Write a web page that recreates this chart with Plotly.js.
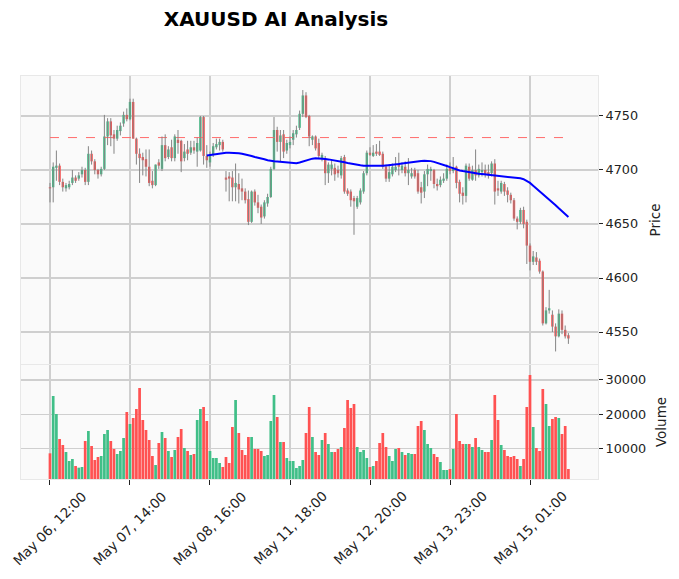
<!DOCTYPE html>
<html><head><meta charset="utf-8">
<script src="https://cdn.plot.ly/plotly-3.0.1.min.js"></script>
<style>html,body{margin:0;padding:0;background:#fff}#chart{width:679px;height:579px}</style>
</head><body><div id="chart"></div>
<script>
const opens  = [4684,4684,4702,4704,4689,4683,4684,4688,4693,4692,4696,4700,4689,4715,4708,4700,4696,4701,4731,4745,4733,4729,4736,4743,4751,4747,4763,4729,4715,4712,4710,4703,4690,4686,4707,4701,4723,4712,4721,4711,4728,4727,4711,4719,4716,4721,4717,4718,4749,4713,4707,4714,4721,4723,4726,4693,4694,4693,4684,4687,4683,4680,4673,4652,4680,4670,4666,4657,4669,4675,4701,4737,4726,4733,4718,4723,4728,4733,4739,4752,4769,4750,4728,4731,4725,4711,4711,4697,4701,4702,4700,4695,4712,4681,4680,4674,4666,4670,4680,4697,4716,4713,4717,4717,4715,4703,4692,4696,4700,4706,4700,4703,4697,4694,4700,4697,4684,4680,4696,4699,4700,4687,4686,4690,4692,4702,4699,4703,4689,4679,4676,4703,4691,4700,4695,4698,4700,4698,4697,4706,4683,4680,4687,4681,4677,4672,4655,4652,4663,4652,4630,4615,4619,4616,4606,4558,4570,4566,4555,4546,4567,4552,4547];
const highs  = [4688,4707,4718,4706,4692,4688,4690,4700,4695,4698,4703,4702,4722,4718,4710,4701,4703,4751,4748,4748,4737,4741,4744,4754,4757,4766,4766,4730,4720,4716,4719,4719,4699,4705,4710,4731,4733,4722,4728,4733,4737,4728,4724,4727,4727,4727,4730,4750,4750,4723,4717,4725,4729,4729,4728,4699,4698,4699,4706,4697,4692,4683,4681,4681,4682,4677,4668,4672,4678,4703,4749,4740,4737,4737,4728,4731,4737,4741,4755,4774,4772,4751,4732,4732,4729,4716,4713,4707,4710,4706,4704,4713,4714,4683,4682,4676,4676,4683,4699,4718,4721,4723,4724,4727,4717,4705,4705,4706,4712,4716,4707,4708,4711,4702,4702,4700,4689,4699,4705,4703,4701,4692,4694,4697,4705,4707,4712,4704,4691,4684,4706,4706,4704,4719,4705,4707,4705,4705,4708,4710,4690,4690,4689,4684,4679,4674,4657,4665,4666,4654,4632,4625,4624,4618,4607,4573,4589,4570,4558,4571,4570,4556,4549];
const lows   = [4670,4670,4690,4686,4680,4680,4682,4686,4688,4690,4693,4686,4686,4705,4696,4692,4694,4700,4723,4722,4715,4727,4732,4740,4745,4746,4729,4705,4688,4695,4694,4685,4683,4685,4701,4699,4708,4710,4708,4708,4715,4698,4708,4709,4714,4715,4703,4717,4705,4702,4703,4712,4719,4718,4717,4680,4671,4671,4671,4669,4672,4669,4649,4651,4667,4660,4650,4655,4666,4674,4700,4717,4708,4711,4715,4720,4723,4730,4737,4749,4748,4722,4723,4718,4710,4708,4686,4688,4695,4690,4693,4692,4678,4676,4666,4640,4664,4668,4678,4695,4713,4712,4713,4713,4701,4689,4689,4694,4698,4695,4697,4694,4686,4692,4692,4678,4669,4674,4685,4690,4683,4681,4684,4688,4690,4696,4697,4683,4670,4668,4670,4690,4690,4690,4693,4694,4693,4692,4694,4668,4676,4678,4676,4670,4669,4653,4645,4650,4646,4613,4607,4612,4612,4604,4556,4557,4567,4550,4532,4545,4548,4544,4539];
const closes = [4683,4703,4704,4689,4684,4686,4687,4693,4690,4695,4700,4689,4715,4708,4700,4696,4701,4731,4745,4732,4729,4737,4741,4751,4747,4763,4729,4715,4711,4709,4703,4688,4686,4705,4704,4723,4711,4719,4711,4731,4725,4708,4717,4715,4721,4718,4725,4749,4713,4709,4714,4722,4724,4726,4719,4691,4692,4684,4688,4682,4680,4672,4652,4680,4670,4665,4656,4670,4675,4701,4737,4726,4732,4717,4725,4726,4734,4737,4752,4769,4749,4731,4731,4720,4713,4714,4697,4705,4705,4696,4697,4711,4680,4678,4672,4671,4674,4681,4697,4716,4714,4716,4715,4714,4703,4692,4698,4703,4703,4703,4704,4697,4700,4697,4694,4680,4679,4696,4701,4701,4687,4685,4691,4692,4701,4699,4702,4688,4678,4676,4704,4692,4700,4695,4701,4700,4696,4695,4706,4680,4681,4688,4680,4677,4672,4655,4652,4663,4650,4630,4615,4620,4615,4606,4558,4570,4572,4555,4546,4567,4552,4546,4544];
const volumes = [8530,25310,20040,12720,10970,8920,6280,6870,4820,4330,4520,12140,15070,10670,6570,7450,7750,14190,15360,12140,9800,8330,9210,13020,20630,17120,18870,21510,27660,18290,15360,12430,7750,5110,11550,14770,13020,9210,7450,9500,13310,15650,10090,9210,8040,8330,18290,21510,22090,17990,9210,7160,7160,5700,4520,7450,5700,16240,24140,14480,9500,8040,13310,13310,9800,9800,9210,7750,8040,17990,25610,19160,11850,11850,7160,6280,6280,4230,4820,6570,14480,22090,13310,8920,8040,12430,14480,11260,8920,8920,9800,10380,15940,24140,21800,22970,10380,8920,9500,7160,4520,4820,6280,11550,14480,10380,7750,6280,9800,10090,8920,8040,8620,8330,8330,16530,17990,15360,11260,10090,8330,7450,5990,3650,3650,3940,9800,20040,12140,11260,11260,11260,10380,13020,10380,9500,8920,8920,12430,25610,18290,10970,9500,7750,7450,7750,6870,4820,6870,22090,31460,16240,10090,9210,27360,22970,16530,18580,19160,18870,14190,16530,3940];
const maStart = 49;
const maValues = [4713.5,4714,4714.5,4715,4715.5,4715.8,4716,4716,4716,4715.8,4715.5,4715,4714.5,4714,4713,4712,4711.5,4711,4710,4709,4708.3,4708,4707.8,4707.5,4707.3,4707,4706.5,4706,4706.2,4707,4708,4709,4710,4710.5,4710.8,4710.8,4710.6,4710.2,4709.8,4709.4,4709,4708.6,4708,4707.2,4706.5,4705.8,4705,4704.6,4704.3,4704,4703.9,4703.8,4703.8,4703.8,4703.8,4703.9,4704.2,4704.4,4704.6,4705,4705.5,4706,4706.5,4706.9,4707.3,4707.7,4708,4708.3,4708.5,4708.6,4708.2,4707.5,4706.7,4705.8,4704.8,4703.7,4702.6,4701.5,4700.5,4699.6,4699,4698.4,4697.8,4697.3,4696.9,4696.5,4696.2,4695.9,4695.6,4695.3,4695,4694.7,4694.4,4694.1,4693.8,4693.5,4693.2,4692.8,4692.3,4691.5,4690,4688,4685.5,4683,4680.5,4678,4675.5,4672.8,4670,4667.3,4664.5,4662,4659.3,4656.5];
const refLevel = 4730;
const tickIdx = [0,25,50,75,100,125,150];
const tickLabels = ['May 06, 12:00','May 07, 14:00','May 08, 16:00','May 11, 18:00','May 12, 20:00','May 13, 23:00','May 15, 01:00'];
const upColor = '#40bf88', downColor = '#ff5252', wickColor = '#858585';

const idx = opens.map((_, i) => i);
const colors = idx.map(i => closes[i] >= opens[i] ? upColor : downColor);
const wx = [], wy = [];
idx.forEach(i => { wx.push(i, i, null); wy.push(lows[i], highs[i], null); });
const bodyBase = idx.map(i => Math.min(opens[i], closes[i]));
const bodyH = idx.map(i => Math.max(Math.abs(closes[i] - opens[i]), 0.4));
const maX = maValues.map((_, k) => maStart + k);

const traces = [
  {type:'scatter', mode:'lines', x:[0, idx.length], y:[refLevel, refLevel], xaxis:'x', yaxis:'y',
   line:{color:'#ff6b6b', width:1, dash:'dash'}, hoverinfo:'skip'},
  {type:'scatter', mode:'lines', x:wx, y:wy, xaxis:'x', yaxis:'y', line:{color:wickColor, width:1}, hoverinfo:'skip'},
  {type:'bar', x:idx, base:bodyBase, y:bodyH, xaxis:'x', yaxis:'y', width:0.75, marker:{color:colors, line:{width:0}}},
  {type:'scatter', mode:'lines', x:maX, y:maValues, xaxis:'x', yaxis:'y', line:{color:'#0000ff', width:2}},
  {type:'bar', x:idx, y:volumes, xaxis:'x2', yaxis:'y2', width:0.85, marker:{color:colors, line:{width:0}}}
];

const gridC = '#cfcfcf';
const font = {family:'DejaVu Sans, sans-serif', size:12.8, color:'#222'};
const annotations = tickIdx.map((t, k) => ({
  text: tickLabels[k], x: t, xref:'x2', y: -0.1216, yref:'paper', textangle:-45,
  xanchor:'center', yanchor:'middle', showarrow:false,
  font:{family:'DejaVu Sans, sans-serif', size:13.5, color:'#222'}
}));
const layout = {
  width:679, height:579, showlegend:false, barmode:'overlay',
  paper_bgcolor:'#ffffff', plot_bgcolor:'#fafafa', font:font,
  margin:{l:21, r:81, t:76, b:100},
  annotations: annotations,
  title:{text:'<b>XAUUSD AI Analysis</b>', font:{family:'DejaVu Sans, sans-serif', size:20, color:'#000'},
         xref:'container', x:0.4065, xanchor:'center', yref:'container', y:0.967, yanchor:'middle'},
  xaxis:{domain:[0,1], range:[-9.06,171.25], anchor:'y', tickvals:tickIdx, showticklabels:false,
         showgrid:true, gridcolor:gridC, gridwidth:1.2, zeroline:false, ticks:'',
         showline:true, mirror:true, linecolor:'#e8e8e8', linewidth:1},
  yaxis:{domain:[0.2854,1], range:[4520.4,4787], anchor:'x', side:'right',
         tickvals:[4550,4600,4650,4700,4750], ticks:'outside', ticklen:4, tickcolor:'#222',
         showgrid:true, gridcolor:gridC, gridwidth:1.2, zeroline:false,
         showline:true, mirror:true, linecolor:'#e8e8e8', linewidth:1,
         title:{text:'Price', font:{size:13.5, color:'#222'}, standoff:13}},
  xaxis2:{domain:[0,1], matches:'x', anchor:'y2', tickvals:tickIdx, showticklabels:false,
          ticks:'outside', ticklen:5, tickcolor:'#222', showgrid:true, gridcolor:gridC, gridwidth:1.2,
          zeroline:false, showline:true, mirror:true, linecolor:'#e8e8e8', linewidth:1},
  yaxis2:{domain:[0,0.2829], range:[1011,34390], anchor:'x2', side:'right',
          tickvals:[10000,20000,30000], tickformat:'d', ticks:'outside', ticklen:4, tickcolor:'#222',
          showgrid:true, gridcolor:gridC, gridwidth:1.2, zeroline:false,
          showline:true, mirror:true, linecolor:'#e8e8e8', linewidth:1,
          title:{text:'Volume', font:{size:13.5, color:'#222'}, standoff:11}}
};
Plotly.newPlot('chart', traces, layout, {displayModeBar:false, staticPlot:true});
</script>
</body></html>
